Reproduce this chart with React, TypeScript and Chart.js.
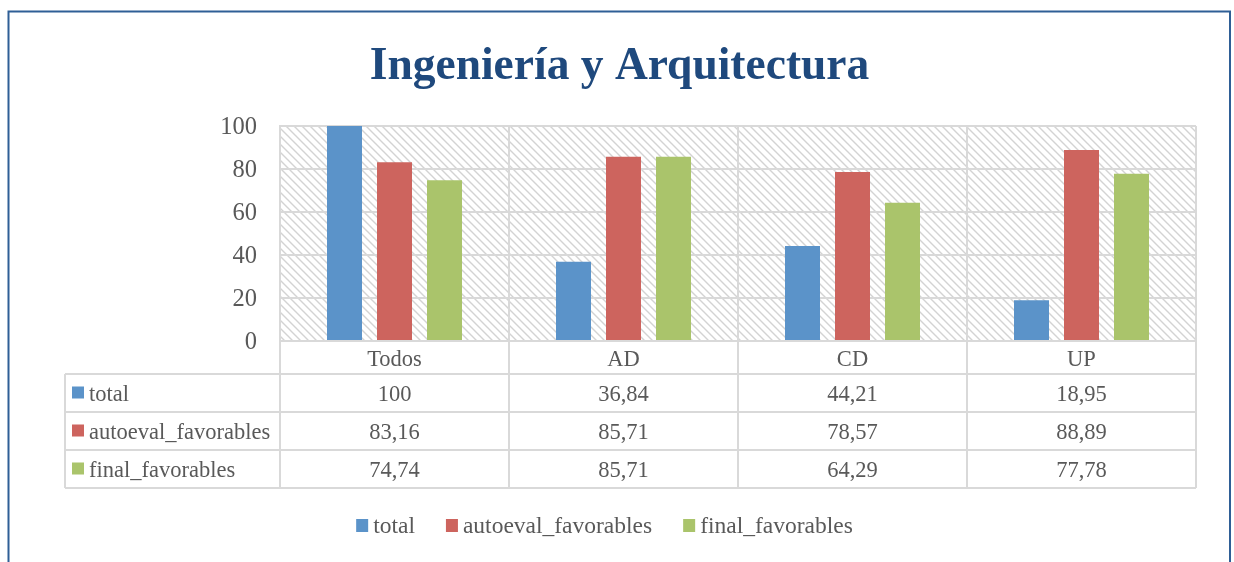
import React, { useEffect, useRef } from 'react';
import { Chart, registerables } from 'chart.js';

Chart.register(...registerables);

const TITLE = 'Ingeniería y Arquitectura';
const categories = ['Todos', 'AD', 'CD', 'UP'];
const seriesNames = ['total', 'autoeval_favorables', 'final_favorables'];
const totalValues = [100, 36.84, 44.21, 18.95];
const autoevalValues = [83.16, 85.71, 78.57, 88.89];
const finalValues = [74.74, 85.71, 64.29, 77.78];
const seriesColors = ['#5B93C9', '#CD645E', '#AAC46B'];
const yMin = 0;
const yMax = 100;
const yStep = 20;

const SERIF = '"Liberation Serif", "Times New Roman", serif';
const TEXT = '#595959';
const GRID = '#D9D9D9';

const fmt = (v: number) => String(v).replace('.', ',');

function makePattern(): CanvasPattern | string {
  const c = document.createElement('canvas');
  c.width = 8;
  c.height = 8;
  const g = c.getContext('2d');
  if (!g) return '#fff';
  g.fillStyle = '#ffffff';
  g.fillRect(0, 0, 8, 8);
  g.strokeStyle = '#D3D3D3';
  g.lineWidth = 1.4;
  g.beginPath();
  g.moveTo(-2, -2); g.lineTo(10, 10);
  g.moveTo(-2, 6); g.lineTo(2, 10);
  g.moveTo(6, -2); g.lineTo(10, 2);
  g.stroke();
  const p = g.createPattern(c, 'repeat');
  return p || '#fff';
}

export default function App() {
  const ref = useRef<HTMLCanvasElement | null>(null);

  useEffect(() => {
    const canvas = ref.current;
    if (!canvas) return;
    const pattern = makePattern();
    const seriesValues = [totalValues, autoevalValues, finalValues];

    const backgroundPlugin = {
      id: 'bgHatch',
      beforeDraw(chart: any) {
        const { ctx, chartArea } = chart;
        ctx.save();
        ctx.fillStyle = '#ffffff';
        ctx.fillRect(0, 0, chart.width, chart.height);
        ctx.fillStyle = pattern;
        ctx.fillRect(chartArea.left, chartArea.top, chartArea.right - chartArea.left, chartArea.bottom - chartArea.top);
        ctx.restore();
      },
    };

    const titlePlugin = {
      id: 'bigTitle',
      afterDraw(chart: any) {
        const { ctx } = chart;
        ctx.save();
        ctx.fillStyle = '#1F497D';
        ctx.font = `bold 45.5px ${SERIF}`;
        ctx.textAlign = 'center';
        ctx.textBaseline = 'alphabetic';
        ctx.fillText(TITLE, 619.5, 79);
        ctx.restore();
      },
    };

    const tablePlugin = {
      id: 'dataTable',
      afterDraw(chart: any) {
        const { ctx, chartArea, scales } = chart;
        const xs = scales.x;
        const n = categories.length;
        const colW = (chartArea.right - chartArea.left) / n;
        const top = chartArea.bottom;
        const headerH = 33;
        const rowH = 38;
        const tableLeft = 65;
        const bottom = top + headerH + rowH * seriesNames.length;
        ctx.save();
        ctx.strokeStyle = GRID;
        ctx.lineWidth = 2;
        ctx.beginPath();
        for (let k = 0; k <= seriesNames.length; k++) {
          const y = top + headerH + k * rowH;
          ctx.moveTo(tableLeft, y);
          ctx.lineTo(chartArea.right, y);
        }
        ctx.moveTo(tableLeft, top + headerH);
        ctx.lineTo(tableLeft, bottom);
        for (let i = 0; i <= n; i++) {
          const x = i < n ? xs.getPixelForTick(i) - colW / 2 : xs.getPixelForTick(n - 1) + colW / 2;
          ctx.moveTo(x, top);
          ctx.lineTo(x, bottom);
        }
        ctx.stroke();

        ctx.fillStyle = TEXT;
        ctx.font = `22.5px ${SERIF}`;
        ctx.textBaseline = 'middle';
        ctx.textAlign = 'center';
        categories.forEach((c, i) => {
          ctx.fillText(c, xs.getPixelForTick(i), top + headerH / 2 + 2.5);
        });
        seriesNames.forEach((name, r) => {
          const yc = top + headerH + r * rowH + rowH / 2 + 2.5;
          ctx.fillStyle = seriesColors[r];
          ctx.fillRect(tableLeft + 7, yc - 9, 12, 12);
          ctx.fillStyle = TEXT;
          ctx.textAlign = 'left';
          ctx.fillText(name, tableLeft + 24, yc);
          ctx.textAlign = 'center';
          seriesValues[r].forEach((v, i) => {
            ctx.fillText(fmt(v), xs.getPixelForTick(i), yc);
          });
        });
        ctx.restore();
      },
    };

    const legendPlugin = {
      id: 'bottomLegend',
      afterDraw(chart: any) {
        const { ctx } = chart;
        ctx.save();
        ctx.font = `23.5px ${SERIF}`;
        const box = 12;
        const gapBoxText = 5;
        const gapItems = 31;
        const widths = seriesNames.map((s) => box + gapBoxText + ctx.measureText(s).width);
        const total = widths.reduce((a, b) => a + b, 0) + gapItems * (seriesNames.length - 1);
        let x = 604.5 - total / 2;
        const yc = 526;
        ctx.textBaseline = 'middle';
        ctx.textAlign = 'left';
        seriesNames.forEach((s, i) => {
          ctx.fillStyle = seriesColors[i];
          ctx.fillRect(x, yc - 7, box, 13);
          ctx.fillStyle = TEXT;
          ctx.fillText(s, x + box + gapBoxText, yc + 1);
          x += widths[i] + gapItems;
        });
        ctx.restore();
      },
    };

    const borderPlugin = {
      id: 'outerBorder',
      afterDraw(chart: any) {
        const { ctx } = chart;
        ctx.save();
        ctx.strokeStyle = '#2F5F96';
        ctx.lineWidth = 2;
        ctx.strokeRect(8.5, 11.5, 1221.5, 600);
        ctx.restore();
      },
    };

    const chart = new Chart(canvas, {
      type: 'bar',
      data: {
        labels: categories,
        datasets: seriesNames.map((name, i) => ({
          label: name,
          data: seriesValues[i],
          backgroundColor: seriesColors[i],
          borderWidth: 0,
          barPercentage: 0.7,
          categoryPercentage: 0.655,
        })),
      },
      options: {
        responsive: false,
        animation: false,
        devicePixelRatio: 1,
        layout: { padding: { left: 0, right: 38, top: 126, bottom: 221 } },
        plugins: {
          legend: { display: false },
          tooltip: { enabled: false },
          title: { display: false },
        },
        scales: {
          x: {
            grid: { color: GRID, lineWidth: 2, offset: true, drawTicks: false },
            border: { display: true, color: GRID, width: 2 },
            ticks: { display: false },
            afterFit(scale: any) { scale.height = 0; },
          },
          y: {
            min: yMin,
            max: yMax,
            ticks: {
              stepSize: yStep,
              color: TEXT,
              padding: 23,
              labelOffset: 2,
              font: { family: SERIF, size: 24.5 },
            },
            grid: { color: GRID, lineWidth: 2, drawTicks: false },
            border: { display: true, color: GRID, width: 2 },
            afterFit(scale: any) { scale.width = 280; },
          },
        },
      },
      plugins: [backgroundPlugin, titlePlugin, tablePlugin, legendPlugin, borderPlugin],
    });
    return () => chart.destroy();
  }, []);

  return (
    <div style={{ position: 'fixed', left: 0, top: 0, width: 1234, height: 562, background: '#fff' }}>
      <canvas ref={ref} width={1234} height={562} style={{ display: 'block', width: 1234, height: 562 }} />
    </div>
  );
}
